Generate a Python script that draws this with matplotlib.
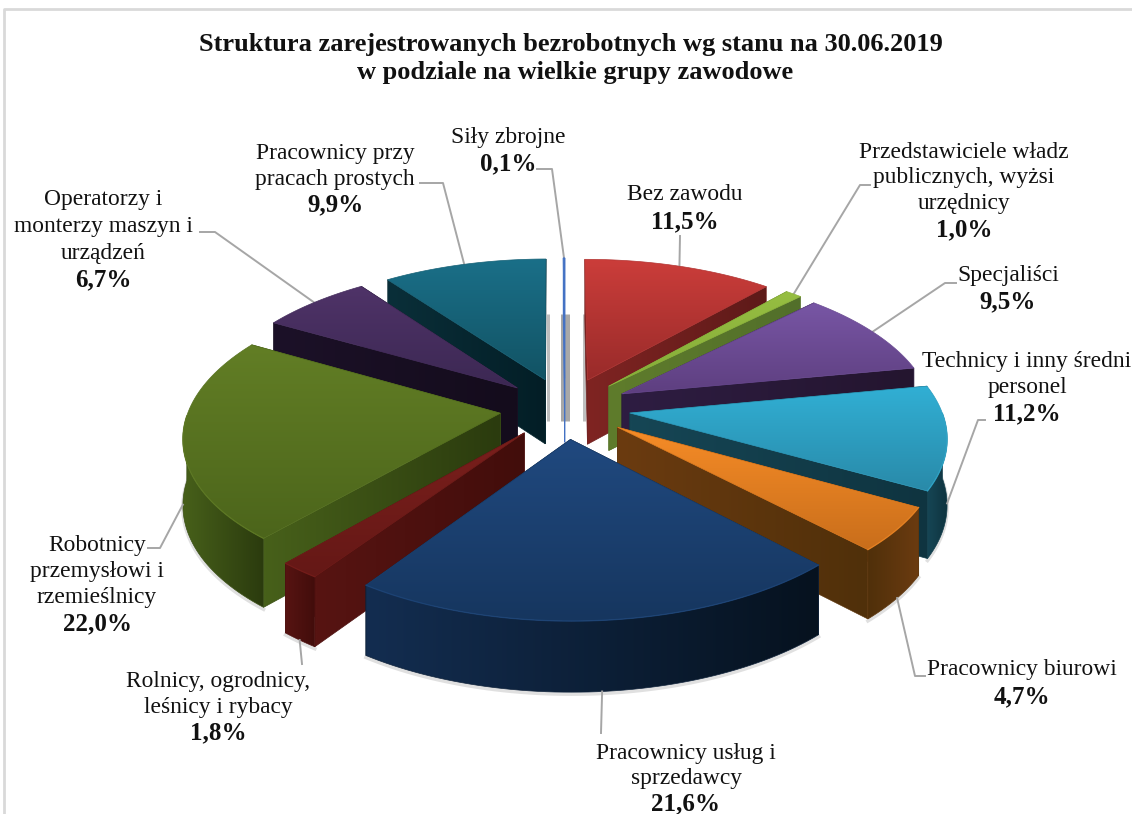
#!/usr/bin/env python3
"""Struktura bezrobotnych - exploded 3D pie drawn with plain polygons."""

import numpy as np
import matplotlib
matplotlib.use("Agg")
import matplotlib.pyplot as plt
from matplotlib.colors import to_rgb
from matplotlib.patches import Polygon

plt.rcParams["font.family"] = ["Liberation Serif", "DejaVu Serif"]

title_lines = ["Struktura zarejestrowanych bezrobotnych wg stanu na 30.06.2019",
               "w podziale na wielkie grupy zawodowe"]

names = [
    "Bez zawodu",
    "Przedstawiciele władz\npublicznych, wyżsi\nurzędnicy",
    "Specjaliści",
    "Technicy i inny średni\npersonel",
    "Pracownicy biurowi",
    "Pracownicy usług i\nsprzedawcy",
    "Rolnicy, ogrodnicy,\nleśnicy i rybacy",
    "Robotnicy\nprzemysłowi i\nrzemieślnicy",
    "Operatorzy i\nmonterzy maszyn i\nurządzeń",
    "Pracownicy przy\npracach prostych",
    "Siły zbrojne",
]
values = [11.5, 1.0, 9.5, 11.2, 4.7, 21.6, 1.8, 22.0, 6.7, 9.9, 0.1]

# colours: top surface (back, front), side faces (left, right)
top_hi = ["#CB3D3A", "#96BE42", "#7856A5", "#31AFD4", "#F68C27", "#20497F", "#7A1F1C", "#627E25", "#4F3368", "#1A6F88", "#4472C4"]
top_lo = ["#992B2A", "#86AC38", "#5E3F80", "#298AA9", "#C96E1B", "#16365F", "#651816", "#4C651B", "#3C2853", "#125364", "#4472C4"]
side_hi = ["#7F2422", "#5F7C2C", "#2E1D42", "#164655", "#6B3B10", "#132D50", "#571412", "#47601A", "#1C1128", "#0A2F39", "#4472C4"]
side_lo = ["#5E1A19", "#526F2A", "#24152F", "#0F3440", "#50300A", "#06121F", "#420D0B", "#2B3B0E", "#140C1C", "#031E26", "#4472C4"]

# layout in pixels of the 1132x814 figure
cx, cy = 565, 408
explode = 0.21
sx, sz, persp = 311, 145.6, 0.1435
depth = 65

# label centres: x, y of first line, y of the bold value
label_pos = [
    (685, 195, 222), (964, 152, 230), (1008, 275, 302), (1027, 361, 414),
    (1022, 670, 697), (686, 753, 804), (218, 681, 733), (97, 546, 624),
    (103, 200, 280), (335, 153, 205), (508, 137, 164),
]
# leader: rest of the polyline after the anchor on the slice
leaders = [
    [(680, 236)], [(860, 185), (870, 185)], [(945, 283), (956, 283)],
    [(978, 420), (985, 420)], [(915, 676), (925, 676)], [(601, 733)],
    [(302, 664)], [(160, 548), (148, 548)], [(215, 232), (200, 232)],
    [(443, 183), (420, 183)], [(552, 169), (537, 169)],
]

fig = plt.figure(figsize=(11.32, 8.14), dpi=100)
ax = fig.add_axes([0, 0, 1, 1])


def project(theta, r, mid, low=False):
    # theta in degrees, clockwise from the back of the pie
    t, m = np.radians(theta), np.radians(mid)
    x = r * np.sin(t) + explode * np.sin(m)
    z = r * np.cos(t) + explode * np.cos(m)
    den = 1 + persp * z
    px = cx + sx * x / den
    py = cy - sz * z / den
    if low:
        py = py + depth / (1 + 0.5 * persp * z)
    return np.column_stack([px, py]) if np.ndim(px) else np.array([px, py])


def fill(poly, c0, c1, vertical, z):
    poly = np.asarray(poly)
    x0, y0 = poly.min(axis=0)
    x1, y1 = poly.max(axis=0)
    ramp = np.linspace(0, 1, 64)[:, None]
    arr = (1 - ramp) * np.array(to_rgb(c0)) + ramp * np.array(to_rgb(c1))
    arr = arr[:, None, :] if vertical else arr[None, :, :]
    im = ax.imshow(arr, extent=[x0, x1 + 0.01, y1 + 0.01, y0], aspect="auto",
                   zorder=z, interpolation="bilinear")
    im.set_clip_path(Polygon(poly, transform=ax.transData))
    mean = tuple((np.array(to_rgb(c0)) + np.array(to_rgb(c1))) / 2)
    ax.add_patch(Polygon(poly, fc="none", ec=mean, lw=0.5, zorder=z + 0.1))


share = np.array(values) / sum(values) * 360
ends = np.cumsum(share)
starts = ends - share
mids = (starts + ends) / 2

# soft gray bars seen through the gaps at the back
for idx, off, w, col in [(9, 3, 3, "#BDBDBD"), (10, 0, 9, "#A8A8A8"), (0, -3, 3, "#BFBFBF")]:
    x = project(mids[idx], 0, mids[idx])[0] + off
    ax.plot([x, x], [314, 421], color=col, lw=w * 0.72, zorder=1, solid_capstyle="butt")

# back to front
order = np.argsort(-np.cos(np.radians(mids)))
for n, i in enumerate(order):
    base = 10 + n * 5
    a0, a1, mid = starts[i], ends[i], mids[i]
    angles = np.linspace(a0, a1, 60)
    apex_t = project(mid, 0, mid)
    apex_b = project(mid, 0, mid, low=True)

    # drop shadow below the lower rim
    lo = angles[np.cos(np.radians(angles)) < 0.1]
    if len(lo) > 1:
        low_edge = project(lo, 1, mid, low=True)
        ax.plot(low_edge[:, 0], low_edge[:, 1] + 2, color="#9A9A9A", lw=2.5, alpha=0.3, zorder=base)

    # radial faces, the one further back goes first
    faces = sorted([a0, a1], key=lambda a: -np.cos(np.radians(a)))
    for k, a in enumerate(faces):
        poly = [apex_t, project(a, 1, mid), project(a, 1, mid, low=True), apex_b]
        fill(poly, side_hi[i], side_lo[i], False, base + 1 + 0.2 * k)

    # outer wall, only the part turned to the viewer
    front = angles[(angles > 90) & (angles < 270)]
    if len(front) > 1:
        wall = np.vstack([project(front, 1, mid), project(front[::-1], 1, mid, low=True)])
        if i == 4:
            fill(wall, side_lo[i], side_hi[i], False, base + 2)
        else:
            fill(wall, side_hi[i], side_lo[i], False, base + 2)

    # top surface
    top = np.vstack([apex_t[None, :], project(angles, 1, mid)])
    fill(top, top_hi[i], top_lo[i], True, base + 3)
    if len(front) > 1:
        rim = project(front, 1, mid)
        ax.plot(rim[:, 0], rim[:, 1], color=top_hi[i], lw=1, alpha=0.55, zorder=base + 3.5)

# leaders and labels
for i, name in enumerate(names):
    low = np.cos(np.radians(mids[i])) < 0
    anchor = project(mids[i], 1, mids[i], low=low)
    pts = np.vstack([anchor[None, :], np.array(leaders[i], dtype=float)])
    ax.plot(pts[:, 0], pts[:, 1], color="#A6A6A6", lw=1.4, zorder=5 if not low else 100)
    x, y_name, y_val = label_pos[i]
    lines = name.split("\n")
    step = (y_val - y_name) / len(lines)
    for k, line in enumerate(lines):
        ax.text(x, y_name + k * step, line, ha="center", va="center", fontsize=16.9, color="#111111", zorder=200)
    ax.text(x, y_val, f"{values[i]:.1f}%".replace(".", ","), ha="center", va="center",
            fontsize=18, fontweight="bold", color="#111111", zorder=200)

ax.text(571, 45, title_lines[0], ha="center", va="center", fontsize=19, fontweight="bold",
        color="#111111", zorder=200)
ax.text(575, 73, title_lines[1], ha="center", va="center", fontsize=19, fontweight="bold",
        color="#111111", zorder=200)

# chart frame
ax.plot([4, 4, 1132], [814, 9, 9], color="#D9D9D9", lw=2, zorder=0)

ax.set_xlim(0, 1132)
ax.set_ylim(814, 0)
ax.axis("off")

fig.savefig("out.png", dpi=100, facecolor="white")
